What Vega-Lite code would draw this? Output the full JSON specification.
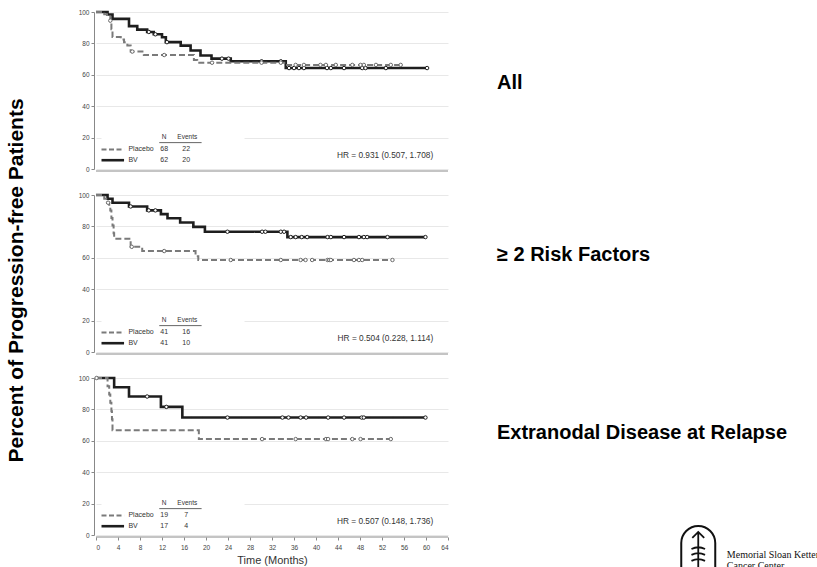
{
"$schema": "https://vega.github.io/schema/vega-lite/v6.json",
"padding": {"left": 6, "top": 6, "right": 5, "bottom": 2},
"title": {"text": "Percent of Progression-free Patients", "orient": "left", "anchor": "middle", "fontSize": 21, "font": "Liberation Sans", "fontWeight": "bold", "color": "#000", "offset": 51, "dx": 10},
"bounds": "flush",
"data": {"values": [
{"p":"All","k":"s","g":"BV","t":0,"s":100},{"p":"All","k":"s","g":"BV","t":2.1,"s":98.4},{"p":"All","k":"s","g":"BV","t":3,"s":95.6},{"p":"All","k":"s","g":"BV","t":6,"s":91},{"p":"All","k":"s","g":"BV","t":7.5,"s":88.8},{"p":"All","k":"s","g":"BV","t":9.3,"s":87.3},{"p":"All","k":"s","g":"BV","t":10.5,"s":85.8},{"p":"All","k":"s","g":"BV","t":12,"s":83.9},{"p":"All","k":"s","g":"BV","t":12.7,"s":80.8},{"p":"All","k":"s","g":"BV","t":15.4,"s":78.6},{"p":"All","k":"s","g":"BV","t":17.2,"s":75.5},{"p":"All","k":"s","g":"BV","t":19,"s":72.3},{"p":"All","k":"s","g":"BV","t":21,"s":70.3},{"p":"All","k":"s","g":"BV","t":24.5,"s":68.6},{"p":"All","k":"s","g":"BV","t":34.5,"s":64.3},{"p":"All","k":"s","g":"BV","t":60.2,"s":64.3},
{"p":"All","k":"s","g":"Placebo","t":0,"s":100},{"p":"All","k":"s","g":"Placebo","t":1.5,"s":98.5},{"p":"All","k":"s","g":"Placebo","t":2,"s":97},{"p":"All","k":"s","g":"Placebo","t":2.6,"s":94.5},{"p":"All","k":"s","g":"Placebo","t":2.8,"s":89},{"p":"All","k":"s","g":"Placebo","t":3,"s":84},{"p":"All","k":"s","g":"Placebo","t":4.5,"s":82.5},{"p":"All","k":"s","g":"Placebo","t":5.1,"s":80.7},{"p":"All","k":"s","g":"Placebo","t":5.7,"s":78.6},{"p":"All","k":"s","g":"Placebo","t":6.3,"s":74.8},{"p":"All","k":"s","g":"Placebo","t":8.7,"s":72.6},{"p":"All","k":"s","g":"Placebo","t":17.8,"s":69.5},{"p":"All","k":"s","g":"Placebo","t":18.4,"s":67.7},{"p":"All","k":"s","g":"Placebo","t":34.5,"s":66.3},{"p":"All","k":"s","g":"Placebo","t":55.5,"s":66.3},
{"p":"All","k":"c","g":"BV","t":9.6,"s":87.3},{"p":"All","k":"c","g":"BV","t":10.8,"s":85.8},{"p":"All","k":"c","g":"BV","t":12.9,"s":80.8},{"p":"All","k":"c","g":"BV","t":22.9,"s":70.3},{"p":"All","k":"c","g":"BV","t":24.1,"s":70.3},{"p":"All","k":"c","g":"BV","t":30.1,"s":68.6},{"p":"All","k":"c","g":"BV","t":33.6,"s":68.6},{"p":"All","k":"c","g":"BV","t":35.1,"s":64.3},{"p":"All","k":"c","g":"BV","t":36,"s":64.3},{"p":"All","k":"c","g":"BV","t":36.9,"s":64.3},{"p":"All","k":"c","g":"BV","t":37.8,"s":64.3},{"p":"All","k":"c","g":"BV","t":42,"s":64.3},{"p":"All","k":"c","g":"BV","t":42.7,"s":64.3},{"p":"All","k":"c","g":"BV","t":45.1,"s":64.3},{"p":"All","k":"c","g":"BV","t":48.4,"s":64.3},{"p":"All","k":"c","g":"BV","t":49,"s":64.3},{"p":"All","k":"c","g":"BV","t":52.7,"s":64.3},{"p":"All","k":"c","g":"BV","t":60.2,"s":64.3},
{"p":"All","k":"c","g":"Placebo","t":2.6,"s":94.5},{"p":"All","k":"c","g":"Placebo","t":6.6,"s":74.8},{"p":"All","k":"c","g":"Placebo","t":12.4,"s":72.6},{"p":"All","k":"c","g":"Placebo","t":21.1,"s":67.7},{"p":"All","k":"c","g":"Placebo","t":30.1,"s":67.7},{"p":"All","k":"c","g":"Placebo","t":33.6,"s":67.7},{"p":"All","k":"c","g":"Placebo","t":36.3,"s":66.3},{"p":"All","k":"c","g":"Placebo","t":37.8,"s":66.3},{"p":"All","k":"c","g":"Placebo","t":40.8,"s":66.3},{"p":"All","k":"c","g":"Placebo","t":41.8,"s":66.3},{"p":"All","k":"c","g":"Placebo","t":43.6,"s":66.3},{"p":"All","k":"c","g":"Placebo","t":46.6,"s":66.3},{"p":"All","k":"c","g":"Placebo","t":48.1,"s":66.3},{"p":"All","k":"c","g":"Placebo","t":48.7,"s":66.3},{"p":"All","k":"c","g":"Placebo","t":50.9,"s":66.3},{"p":"All","k":"c","g":"Placebo","t":53.6,"s":66.3},{"p":"All","k":"c","g":"Placebo","t":55.4,"s":66.3},
{"p":"≥ 2 Risk Factors","k":"s","g":"BV","t":0,"s":100},{"p":"≥ 2 Risk Factors","k":"s","g":"BV","t":2.1,"s":97.6},{"p":"≥ 2 Risk Factors","k":"s","g":"BV","t":3,"s":95.1},{"p":"≥ 2 Risk Factors","k":"s","g":"BV","t":6,"s":92.7},{"p":"≥ 2 Risk Factors","k":"s","g":"BV","t":9.3,"s":90.2},{"p":"≥ 2 Risk Factors","k":"s","g":"BV","t":11.8,"s":87.8},{"p":"≥ 2 Risk Factors","k":"s","g":"BV","t":13,"s":85.2},{"p":"≥ 2 Risk Factors","k":"s","g":"BV","t":15.3,"s":82.5},{"p":"≥ 2 Risk Factors","k":"s","g":"BV","t":17.7,"s":79.7},{"p":"≥ 2 Risk Factors","k":"s","g":"BV","t":19.8,"s":76.6},{"p":"≥ 2 Risk Factors","k":"s","g":"BV","t":34.8,"s":73.2},{"p":"≥ 2 Risk Factors","k":"s","g":"BV","t":59.9,"s":73.2},
{"p":"≥ 2 Risk Factors","k":"s","g":"Placebo","t":0,"s":100},{"p":"≥ 2 Risk Factors","k":"s","g":"Placebo","t":1.5,"s":97.6},{"p":"≥ 2 Risk Factors","k":"s","g":"Placebo","t":2.1,"s":95.1},{"p":"≥ 2 Risk Factors","k":"s","g":"Placebo","t":2.4,"s":92.7},{"p":"≥ 2 Risk Factors","k":"s","g":"Placebo","t":2.6,"s":90.2},{"p":"≥ 2 Risk Factors","k":"s","g":"Placebo","t":2.8,"s":85.4},{"p":"≥ 2 Risk Factors","k":"s","g":"Placebo","t":3,"s":80.5},{"p":"≥ 2 Risk Factors","k":"s","g":"Placebo","t":3.2,"s":75.6},{"p":"≥ 2 Risk Factors","k":"s","g":"Placebo","t":3.3,"s":72.2},{"p":"≥ 2 Risk Factors","k":"s","g":"Placebo","t":6.3,"s":67},{"p":"≥ 2 Risk Factors","k":"s","g":"Placebo","t":8.4,"s":64.3},{"p":"≥ 2 Risk Factors","k":"s","g":"Placebo","t":18.1,"s":61},{"p":"≥ 2 Risk Factors","k":"s","g":"Placebo","t":18.6,"s":58.6},{"p":"≥ 2 Risk Factors","k":"s","g":"Placebo","t":53.9,"s":58.6},
{"p":"≥ 2 Risk Factors","k":"c","g":"BV","t":6.3,"s":92.7},{"p":"≥ 2 Risk Factors","k":"c","g":"BV","t":9.6,"s":90.2},{"p":"≥ 2 Risk Factors","k":"c","g":"BV","t":10.8,"s":90.2},{"p":"≥ 2 Risk Factors","k":"c","g":"BV","t":23.9,"s":76.6},{"p":"≥ 2 Risk Factors","k":"c","g":"BV","t":30.2,"s":76.6},{"p":"≥ 2 Risk Factors","k":"c","g":"BV","t":30.8,"s":76.6},{"p":"≥ 2 Risk Factors","k":"c","g":"BV","t":33.6,"s":76.6},{"p":"≥ 2 Risk Factors","k":"c","g":"BV","t":34.2,"s":76.6},{"p":"≥ 2 Risk Factors","k":"c","g":"BV","t":35.4,"s":73.2},{"p":"≥ 2 Risk Factors","k":"c","g":"BV","t":36.3,"s":73.2},{"p":"≥ 2 Risk Factors","k":"c","g":"BV","t":37.4,"s":73.2},{"p":"≥ 2 Risk Factors","k":"c","g":"BV","t":38.4,"s":73.2},{"p":"≥ 2 Risk Factors","k":"c","g":"BV","t":42.1,"s":73.2},{"p":"≥ 2 Risk Factors","k":"c","g":"BV","t":42.7,"s":73.2},{"p":"≥ 2 Risk Factors","k":"c","g":"BV","t":45.1,"s":73.2},{"p":"≥ 2 Risk Factors","k":"c","g":"BV","t":47.8,"s":73.2},{"p":"≥ 2 Risk Factors","k":"c","g":"BV","t":48.7,"s":73.2},{"p":"≥ 2 Risk Factors","k":"c","g":"BV","t":49.3,"s":73.2},{"p":"≥ 2 Risk Factors","k":"c","g":"BV","t":53,"s":73.2},{"p":"≥ 2 Risk Factors","k":"c","g":"BV","t":59.9,"s":73.2},
{"p":"≥ 2 Risk Factors","k":"c","g":"Placebo","t":2.2,"s":95.1},{"p":"≥ 2 Risk Factors","k":"c","g":"Placebo","t":6.5,"s":67},{"p":"≥ 2 Risk Factors","k":"c","g":"Placebo","t":12.4,"s":64.3},{"p":"≥ 2 Risk Factors","k":"c","g":"Placebo","t":24.5,"s":58.6},{"p":"≥ 2 Risk Factors","k":"c","g":"Placebo","t":33.6,"s":58.6},{"p":"≥ 2 Risk Factors","k":"c","g":"Placebo","t":37.2,"s":58.6},{"p":"≥ 2 Risk Factors","k":"c","g":"Placebo","t":38.1,"s":58.6},{"p":"≥ 2 Risk Factors","k":"c","g":"Placebo","t":39.3,"s":58.6},{"p":"≥ 2 Risk Factors","k":"c","g":"Placebo","t":42.1,"s":58.6},{"p":"≥ 2 Risk Factors","k":"c","g":"Placebo","t":42.4,"s":58.6},{"p":"≥ 2 Risk Factors","k":"c","g":"Placebo","t":42.7,"s":58.6},{"p":"≥ 2 Risk Factors","k":"c","g":"Placebo","t":46.9,"s":58.6},{"p":"≥ 2 Risk Factors","k":"c","g":"Placebo","t":47.8,"s":58.6},{"p":"≥ 2 Risk Factors","k":"c","g":"Placebo","t":48.4,"s":58.6},{"p":"≥ 2 Risk Factors","k":"c","g":"Placebo","t":53.9,"s":58.6},
{"p":"Extranodal Disease at Relapse","k":"s","g":"BV","t":0,"s":100},{"p":"Extranodal Disease at Relapse","k":"s","g":"BV","t":3.3,"s":94.1},{"p":"Extranodal Disease at Relapse","k":"s","g":"BV","t":6,"s":88.2},{"p":"Extranodal Disease at Relapse","k":"s","g":"BV","t":11.8,"s":81.6},{"p":"Extranodal Disease at Relapse","k":"s","g":"BV","t":15.7,"s":74.8},{"p":"Extranodal Disease at Relapse","k":"s","g":"BV","t":59.9,"s":74.8},
{"p":"Extranodal Disease at Relapse","k":"s","g":"Placebo","t":0,"s":100},{"p":"Extranodal Disease at Relapse","k":"s","g":"Placebo","t":2.1,"s":94.7},{"p":"Extranodal Disease at Relapse","k":"s","g":"Placebo","t":2.4,"s":89.5},{"p":"Extranodal Disease at Relapse","k":"s","g":"Placebo","t":2.6,"s":84.2},{"p":"Extranodal Disease at Relapse","k":"s","g":"Placebo","t":2.8,"s":78.9},{"p":"Extranodal Disease at Relapse","k":"s","g":"Placebo","t":2.9,"s":73.7},{"p":"Extranodal Disease at Relapse","k":"s","g":"Placebo","t":3,"s":66.7},{"p":"Extranodal Disease at Relapse","k":"s","g":"Placebo","t":18.7,"s":61.1},{"p":"Extranodal Disease at Relapse","k":"s","g":"Placebo","t":53.6,"s":61.1},
{"p":"Extranodal Disease at Relapse","k":"c","g":"BV","t":9.3,"s":88.2},{"p":"Extranodal Disease at Relapse","k":"c","g":"BV","t":12.8,"s":81.6},{"p":"Extranodal Disease at Relapse","k":"c","g":"BV","t":23.9,"s":74.8},{"p":"Extranodal Disease at Relapse","k":"c","g":"BV","t":33.9,"s":74.8},{"p":"Extranodal Disease at Relapse","k":"c","g":"BV","t":35,"s":74.8},{"p":"Extranodal Disease at Relapse","k":"c","g":"BV","t":37.2,"s":74.8},{"p":"Extranodal Disease at Relapse","k":"c","g":"BV","t":38.2,"s":74.8},{"p":"Extranodal Disease at Relapse","k":"c","g":"BV","t":42.2,"s":74.8},{"p":"Extranodal Disease at Relapse","k":"c","g":"BV","t":45.1,"s":74.8},{"p":"Extranodal Disease at Relapse","k":"c","g":"BV","t":48.3,"s":74.8},{"p":"Extranodal Disease at Relapse","k":"c","g":"BV","t":48.7,"s":74.8},{"p":"Extranodal Disease at Relapse","k":"c","g":"BV","t":59.9,"s":74.8},
{"p":"Extranodal Disease at Relapse","k":"c","g":"Placebo","t":0.1,"s":100},{"p":"Extranodal Disease at Relapse","k":"c","g":"Placebo","t":30.2,"s":61.1},{"p":"Extranodal Disease at Relapse","k":"c","g":"Placebo","t":36.3,"s":61.1},{"p":"Extranodal Disease at Relapse","k":"c","g":"Placebo","t":41.8,"s":61.1},{"p":"Extranodal Disease at Relapse","k":"c","g":"Placebo","t":42.2,"s":61.1},{"p":"Extranodal Disease at Relapse","k":"c","g":"Placebo","t":46.6,"s":61.1},{"p":"Extranodal Disease at Relapse","k":"c","g":"Placebo","t":48.1,"s":61.1},{"p":"Extranodal Disease at Relapse","k":"c","g":"Placebo","t":53.6,"s":61.1},
{"p":"All","k":"l","g":"Placebo","n":"68","e":"22"},{"p":"All","k":"l","g":"BV","n":"62","e":"20"},
{"p":"≥ 2 Risk Factors","k":"l","g":"Placebo","n":"41","e":"16"},{"p":"≥ 2 Risk Factors","k":"l","g":"BV","n":"41","e":"10"},
{"p":"Extranodal Disease at Relapse","k":"l","g":"Placebo","n":"19","e":"7"},{"p":"Extranodal Disease at Relapse","k":"l","g":"BV","n":"17","e":"4"},
{"p":"All","k":"h","hr":"HR = 0.931 (0.507, 1.708)"},
{"p":"≥ 2 Risk Factors","k":"h","hr":"HR = 0.504 (0.228, 1.114)"},
{"p":"Extranodal Disease at Relapse","k":"h","hr":"HR = 0.507 (0.148, 1.736)"}
]},
"facet": {"row": {"field": "p", "type": "nominal", "sort": ["All", "≥ 2 Risk Factors", "Extranodal Disease at Relapse"], "header": {"title": null, "labels": false}}},
"spacing": 26,
"spec": {
"width": 352, "height": 157,
"layer": [
{"transform": [{"filter": "datum.k === 's'"}],
 "mark": {"type": "line", "interpolate": "step-after"},
 "encoding": {
  "x": {"field": "t", "type": "quantitative", "scale": {"domain": [0, 64], "nice": false}, "axis": {"values": [0,4,8,12,16,20,24,28,32,36,40,44,48,52,56,60,64], "tickCount": 40, "grid": false, "domain": false, "offset": 2, "labelOverlap": false, "title": "Time (Months)", "titleFontSize": 11, "titleFontWeight": "normal", "titleColor": "#333", "titleFont": "Liberation Sans", "titlePadding": 4, "labelPadding": 4}},
  "y": {"field": "s", "type": "quantitative", "scale": {"domain": [0, 100], "nice": false}, "axis": {"values": [0,20,40,60,80,100], "tickCount": 20, "grid": true, "offset": 2, "labelOverlap": false, "title": null, "labelPadding": 2}},
  "color": {"field": "g", "type": "nominal", "scale": {"domain": ["Placebo", "BV"], "range": ["#7a7a7a", "#1e1e1e"]}, "legend": null},
  "strokeDash": {"field": "g", "type": "nominal", "scale": {"domain": ["Placebo", "BV"], "range": [[6, 3], [1, 0]]}, "legend": null},
  "strokeWidth": {"field": "g", "type": "nominal", "scale": {"domain": ["Placebo", "BV"], "range": [2, 2.6]}, "legend": null}
 }},
{"transform": [{"filter": "datum.k === 'c'"}],
 "mark": {"type": "point", "shape": "circle", "filled": false, "fill": "white", "size": 12, "strokeWidth": 1, "opacity": 1},
 "encoding": {
  "x": {"field": "t", "type": "quantitative"},
  "y": {"field": "s", "type": "quantitative"},
  "stroke": {"field": "g", "type": "nominal", "scale": {"domain": ["Placebo", "BV"], "range": ["#6a6a6a", "#1e1e1e"]}, "legend": null}
 }},
{"transform": [{"filter": "datum.k === 'h'"}],
 "mark": {"type": "rect", "fill": "white"},
 "encoding": {"x": {"datum": 1}, "x2": {"datum": 27}, "y": {"datum": 17.5}, "y2": {"datum": 23}}},
{"transform": [{"filter": "datum.k === 'h'"}],
 "mark": {"type": "rule", "color": "#8a8a8a", "strokeWidth": 1.2, "yOffset": 2},
 "encoding": {"x": {"datum": 0}, "x2": {"datum": 64}, "y": {"datum": 0}}},
{"transform": [{"filter": "datum.k === 'h'"}],
 "mark": {"type": "text", "align": "right", "baseline": "middle", "fontSize": 8.3, "font": "Liberation Sans", "color": "#333"},
 "encoding": {"x": {"datum": 61.3}, "y": {"datum": 8}, "text": {"field": "hr"}}},
{"transform": [{"filter": "datum.k === 'h'"}],
 "mark": {"type": "text", "align": "center", "baseline": "middle", "fontSize": 6.5, "font": "Liberation Sans", "color": "#333", "text": "N"},
 "encoding": {"x": {"datum": 12.4}, "y": {"datum": 20.4}}},
{"transform": [{"filter": "datum.k === 'h'"}],
 "mark": {"type": "text", "align": "center", "baseline": "middle", "fontSize": 6.5, "font": "Liberation Sans", "color": "#333", "text": "Events"},
 "encoding": {"x": {"datum": 16.6}, "y": {"datum": 20.4}}},
{"transform": [{"filter": "datum.k === 'h'"}],
 "mark": {"type": "rule", "color": "#666", "strokeWidth": 1},
 "encoding": {"x": {"datum": 11.5}, "x2": {"datum": 19.2}, "y": {"datum": 16.8}}},
{"transform": [{"filter": "datum.k === 'l' && datum.g === 'Placebo'"}],
 "encoding": {"y": {"datum": 12.5}},
 "layer": [
  {"mark": {"type": "rule", "strokeDash": [5, 2.5], "strokeWidth": 2, "color": "#7a7a7a"}, "encoding": {"x": {"datum": 1}, "x2": {"datum": 5.1}}},
  {"mark": {"type": "text", "align": "left", "baseline": "middle", "fontSize": 7, "font": "Liberation Sans", "color": "#333"}, "encoding": {"x": {"datum": 5.9}, "text": {"field": "g"}}},
  {"mark": {"type": "text", "align": "center", "baseline": "middle", "fontSize": 7, "font": "Liberation Sans", "color": "#333"}, "encoding": {"x": {"datum": 12.4}, "text": {"field": "n"}}},
  {"mark": {"type": "text", "align": "center", "baseline": "middle", "fontSize": 7, "font": "Liberation Sans", "color": "#333"}, "encoding": {"x": {"datum": 16.4}, "text": {"field": "e"}}}
 ]},
{"transform": [{"filter": "datum.k === 'l' && datum.g === 'BV'"}],
 "encoding": {"y": {"datum": 5.6}},
 "layer": [
  {"mark": {"type": "rule", "strokeWidth": 2.6, "color": "#1e1e1e"}, "encoding": {"x": {"datum": 1}, "x2": {"datum": 5.1}}},
  {"mark": {"type": "text", "align": "left", "baseline": "middle", "fontSize": 7, "font": "Liberation Sans", "color": "#333"}, "encoding": {"x": {"datum": 5.9}, "text": {"field": "g"}}},
  {"mark": {"type": "text", "align": "center", "baseline": "middle", "fontSize": 7, "font": "Liberation Sans", "color": "#333"}, "encoding": {"x": {"datum": 12.4}, "text": {"field": "n"}}},
  {"mark": {"type": "text", "align": "center", "baseline": "middle", "fontSize": 7, "font": "Liberation Sans", "color": "#333"}, "encoding": {"x": {"datum": 16.4}, "text": {"field": "e"}}}
 ]},
{"transform": [{"filter": "datum.k === 'h' && datum.p === 'All'"}],
 "mark": {"type": "text", "align": "left", "baseline": "middle", "fontSize": 20, "fontWeight": "bold", "font": "Liberation Sans", "color": "#000"},
 "encoding": {"x": {"datum": 72.9}, "y": {"datum": 55}, "text": {"field": "p"}}},
{"transform": [{"filter": "datum.k === 'h' && datum.p === '≥ 2 Risk Factors'"}],
 "mark": {"type": "text", "align": "left", "baseline": "middle", "fontSize": 20, "fontWeight": "bold", "font": "Liberation Sans", "color": "#000"},
 "encoding": {"x": {"datum": 72.9}, "y": {"datum": 62}, "text": {"field": "p"}}},
{"transform": [{"filter": "datum.k === 'h' && datum.p === 'Extranodal Disease at Relapse'"}],
 "mark": {"type": "text", "align": "left", "baseline": "middle", "fontSize": 20, "fontWeight": "bold", "font": "Liberation Sans", "color": "#000"},
 "encoding": {"x": {"datum": 72.9}, "y": {"datum": 65}, "text": {"field": "p"}}},
{"transform": [{"filter": "datum.k === 'h' && datum.p === 'Extranodal Disease at Relapse'"}],
 "mark": {"type": "point", "shape": "M -1 1.6 L -1 0 A 1 1 0 0 1 1 0 L 1 1.6", "filled": false, "stroke": "#111", "strokeWidth": 2, "size": 1156, "opacity": 1},
 "encoding": {"x": {"datum": 109.5}, "y": {"datum": -5.1}}},
{"transform": [{"filter": "datum.k === 'h' && datum.p === 'Extranodal Disease at Relapse'"}],
 "mark": {"type": "point", "shape": "M 0 -0.65 L 0 1.6 M -0.35 -0.3 L 0 -0.65 L 0.35 -0.3 M -0.4 0.35 Q 0 0.15 0.4 0.35 M -0.4 0.7 Q 0 0.5 0.4 0.7 M -0.4 1.05 Q 0 0.85 0.4 1.05", "filled": false, "stroke": "#111", "strokeWidth": 1.8, "size": 1156, "opacity": 1},
 "encoding": {"x": {"datum": 109.5}, "y": {"datum": -5.1}}},
{"transform": [{"filter": "datum.k === 'h' && datum.p === 'Extranodal Disease at Relapse'"}],
 "mark": {"type": "text", "align": "left", "baseline": "middle", "fontSize": 10, "font": "Liberation Serif", "color": "#111", "lineHeight": 11, "text": ["Memorial Sloan Kettering", "Cancer Center"]},
 "encoding": {"x": {"datum": 114.7}, "y": {"datum": -12.8}}}
]},
"config": {
 "view": {"stroke": null},
 "font": "Liberation Sans",
 "axis": {"labelFont": "Liberation Sans", "labelFontSize": 6.5, "labelColor": "#444", "tickColor": "#888", "tickSize": 3, "domainColor": "#888", "gridColor": "#e8e8e8"}
}
}
